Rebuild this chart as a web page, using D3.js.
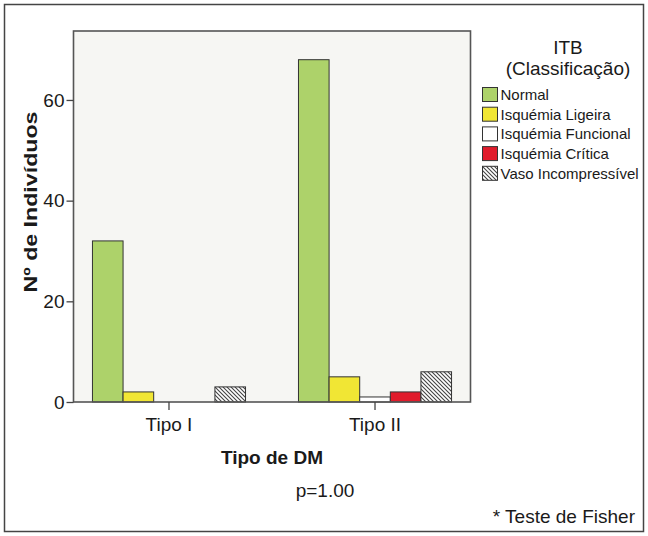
<!DOCTYPE html>
<html><head><meta charset="utf-8">
<script src="https://cdn.jsdelivr.net/npm/d3@7"></script>
<style>body{margin:0;background:#fff}text{font-family:"Liberation Sans",Arial,sans-serif;fill:#1a1a1a}</style>
</head><body><svg id="c" width="648" height="536"></svg>
<script>
const categories = ["Tipo I", "Tipo II"];
const series = ["Normal", "Isquémia Ligeira", "Isquémia Funcional", "Isquémia Crítica", "Vaso Incompressível"];
const normal = [32, 68];
const ligeira = [2, 5];
const funcional = [0, 1];
const critica = [0, 2];
const vaso = [3, 6];
const yTicks = [0, 20, 40, 60];
const colors = ["#add26a", "#f1e634", "#ffffff", "#e01b2b", "url(#hatch)"];

const table = categories.map((c, i) => ({cat: c, values: [normal[i], ligeira[i], funcional[i], critica[i], vaso[i]]}));

const svg = d3.select("#c");
const defs = svg.append("defs");
const pat = defs.append("pattern").attr("id", "hatch").attr("patternUnits", "userSpaceOnUse")
  .attr("width", 4).attr("height", 4);
pat.append("rect").attr("width", 4).attr("height", 4).attr("fill", "#fff");
pat.append("path").attr("d", "M-1,-1 L5,5 M-1,3 L1,5 M3,-1 L5,1").attr("stroke", "#444").attr("stroke-width", 1.1);

// outer frame
svg.append("rect").attr("x", 4.5).attr("y", 4.5).attr("width", 639).attr("height", 527)
  .attr("fill", "#fff").attr("stroke", "#444").attr("stroke-width", 1.5);

const L = 73.5, R = 470.5, T = 31, B = 402;
const x0 = d3.scaleBand().domain(categories).range([L, R]).paddingInner(0.257).paddingOuter(0.092);
const x1 = d3.scaleBand().domain(series).range([0, x0.bandwidth()]);
const y = d3.scaleLinear().domain([0, 73.7]).range([B, T]);

svg.append("rect").attr("x", L).attr("y", T).attr("width", R - L).attr("height", B - T)
  .attr("fill", "#f6f6f3");

const g = svg.append("g");
table.forEach(d => {
  d.values.forEach((v, j) => {
    if (v <= 0) return;
    g.append("rect")
      .attr("x", x0(d.cat) + x1(series[j]))
      .attr("y", y(v))
      .attr("width", x1.bandwidth())
      .attr("height", y(0) - y(v))
      .attr("fill", colors[j])
      .attr("stroke", "#333").attr("stroke-width", 1);
  });
});

svg.append("rect").attr("x", L).attr("y", T).attr("width", R - L).attr("height", B - T)
  .attr("fill", "none").attr("stroke", "#555").attr("stroke-width", 1.6);

const ya = svg.append("g").attr("transform", `translate(${L},0)`)
  .call(d3.axisLeft(y).tickValues(yTicks).tickSize(7).tickPadding(2).tickFormat(d3.format("d")));
ya.select(".domain").remove();
ya.selectAll("line").attr("stroke", "#444").attr("stroke-width", 1.3);
ya.selectAll("text").style("font-size", "19px").attr("fill", "#1a1a1a");

const xa = svg.append("g").attr("transform", `translate(0,${B})`)
  .call(d3.axisBottom(x0).tickSize(8).tickPadding(8));
xa.select(".domain").remove();
xa.selectAll("line").attr("stroke", "#444").attr("stroke-width", 1.3);
xa.selectAll("text").style("font-size", "19px").attr("fill", "#1a1a1a");

svg.append("text").attr("x", (L + R) / 2).attr("y", 464).attr("text-anchor", "middle")
  .style("font-size", "19px").style("font-weight", "bold").text("Tipo de DM");

svg.append("text").attr("transform", "translate(37,202) rotate(-90)").attr("text-anchor", "middle")
  .style("font-size", "19px").style("font-weight", "bold")
  .attr("textLength", 181).attr("lengthAdjust", "spacingAndGlyphs").text("Nº de Indivíduos");

svg.append("text").attr("x", 325).attr("y", 497).attr("text-anchor", "middle")
  .style("font-size", "19px").text("p=1.00");

svg.append("text").attr("x", 635).attr("y", 523).attr("text-anchor", "end")
  .style("font-size", "19px").text("* Teste de Fisher");

// legend
svg.append("text").attr("x", 568).attr("y", 54).attr("text-anchor", "middle")
  .style("font-size", "19px").text("ITB");
svg.append("text").attr("x", 568).attr("y", 75).attr("text-anchor", "middle")
  .style("font-size", "19px").text("(Classificação)");

const lg = svg.append("g");
series.forEach((s, j) => {
  const cy = 94.5 + j * 19.7;
  lg.append("rect").attr("x", 482.5).attr("y", cy - 7).attr("width", 15).attr("height", 14)
    .attr("fill", colors[j]).attr("stroke", "#333").attr("stroke-width", 1);
  lg.append("text").attr("x", 500.5).attr("y", cy + 5.5).style("font-size", "15px").text(s);
});
</script></body></html>
